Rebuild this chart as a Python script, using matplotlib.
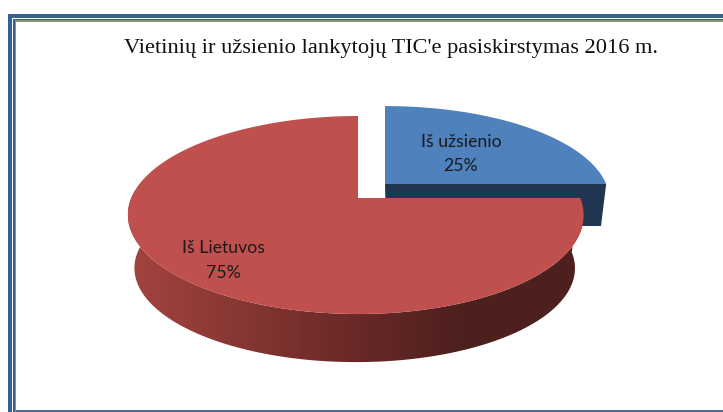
import numpy as np
import matplotlib
matplotlib.use("Agg")
import matplotlib.pyplot as plt
from matplotlib.patches import Polygon, Rectangle
from matplotlib.colors import LinearSegmentedColormap

title = "Vietinių ir užsienio lankytojų TIC'e pasiskirstymas 2016 m."
categories = ["Iš užsienio", "Iš Lietuvos"]
values = [25, 75]
colors = ["#4f81bd", "#c0504d"]

W, H = 723, 412
fig = plt.figure(figsize=(W / 100, H / 100), dpi=100)
ax = fig.add_axes([0, 0, 1, 1])
ax.set_xlim(0, W)
ax.set_ylim(H, 0)
ax.axis("off")

K = 0.1717


def rim(theta, cx, cy, sx=224.5, skew=0.01, sy=96.08):
    """Project a unit-circle angle onto the tilted disc."""
    u, v = np.cos(theta), np.sin(theta)
    d = 1 + K * v
    return cx + sx * (1 - skew * u) * u / d, cy - sy * v / d


# angles derived from the data: first slice runs clockwise from the top
fracs = np.array(values) / sum(values)
t_blue = np.linspace(np.pi / 2, np.pi / 2 - 2 * np.pi * fracs[0], 200)
t_red = np.linspace(np.pi / 2 - 2 * np.pi * fracs[0],
                    np.pi / 2 - 2 * np.pi, 500)

# Blue slice: side wall, then top
bx, by = rim(t_blue, 385, 184, sx=222.5, skew=0.006, sy=91.3)
ax.add_patch(Polygon([(385, 184), (bx[-1], by[-1]), (601, 226), (386, 226)],
                     closed=True, fc="#1f3550", ec="none", zorder=2))
ax.add_patch(Polygon(np.r_[[(385, 184)], np.c_[bx, by]], closed=True,
                     fc=colors[0], ec="none", zorder=3))

# Red slice: gradient outer wall, then top
tx, ty = rim(t_red, 358, 198)
lx, ly = rim(t_red, 356, 252, sx=217, skew=0.006, sy=91.2)
wall = Polygon(np.r_[np.c_[tx, ty], np.c_[lx, ly][::-1]], closed=True,
               fc="none", ec="none", zorder=4)
ax.add_patch(wall)
cmap = LinearSegmentedColormap.from_list(
    "wall", [(0, "#a4443f"), (0.45, "#6f2b2a"), (0.73, "#4d201e"), (1, "#4d201e")])
im = ax.imshow(np.linspace(0, 1, 256)[None, :], cmap=cmap, aspect="auto",
               extent=(128, 584, 365, 190), zorder=4)
im.set_clip_path(wall)
ax.set_xlim(0, W)
ax.set_ylim(H, 0)
ax.add_patch(Polygon(np.r_[[(358, 198)], np.c_[tx, ty]], closed=True,
                     fc=colors[1], ec="none", zorder=5))

# Labels
ax.text(461, 154, f"{categories[0]}\n{values[0]}%", ha="center", va="center",
        family="Lato", fontsize=12.7, color="#1a1a1a", linespacing=1.62, zorder=6)
ax.text(223, 260.5, f"{categories[1]}\n{values[1]}%", ha="center", va="center",
        family="Lato", fontsize=12.7, color="#1a1a1a", linespacing=1.62, zorder=6)
ax.text(390.5, 48.5, title, ha="center", va="center", family="Liberation Serif",
        fontsize=16.1, color="#111111", zorder=6)

# Page border
for (x, y, w, h, c) in [
    (8, 14, 715, 4, "#366092"), (13, 19, 710, 1.2, "#366092"), (14.5, 20.2, 708.5, 1.3, "#8a8f96"),
    (8, 14, 4, 398, "#366092"), (13, 19, 1.5, 393, "#366092"), (14.5, 20.2, 1.5, 392, "#8a8f96"),
    (16, 410, 707, 1.5, "#4a6a94"),
]:
    ax.add_patch(Rectangle((x, y), w, h, fc=c, ec="none", zorder=7))

fig.savefig("out.png", dpi=100, facecolor="white")
